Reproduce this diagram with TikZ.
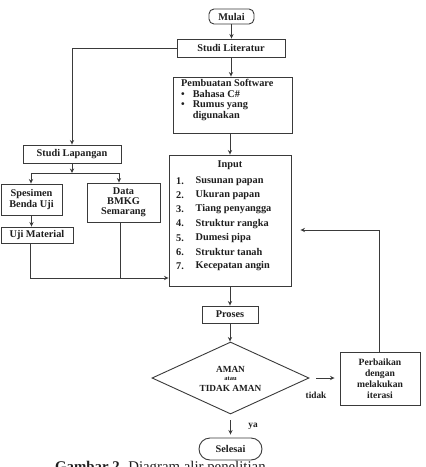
\documentclass[tikz,border=0pt]{standalone}
\usepackage{fontspec}
\setmainfont{Liberation Serif}
\usetikzlibrary{shapes.geometric,arrows.meta}
\definecolor{linec}{HTML}{3A3A3A}
\definecolor{txtc}{HTML}{1E1E1E}
\begin{document}
\begin{tikzpicture}[x=1pt,y=-1pt,
  box/.style={draw=linec, line width=0.9pt, inner sep=0pt, align=center, text=txtc,
    font=\bfseries\fontsize{10.3}{10.8}\selectfont},
  rbox/.style={box, rounded corners=5pt},
  lbl/.style={inner sep=0pt, text=txtc, font=\bfseries\fontsize{10.3}{10.8}\selectfont},
  arr/.style={draw=linec, line width=0.9pt, -{Stealth[length=4.5pt,width=4.2pt]}},
  ln/.style={draw=linec, line width=0.9pt}
]
\useasboundingbox (0,0) rectangle (426,467);
\clip (0,0) rectangle (426,467);
\fill[white] (0,0) rectangle (426,467);

% main column
\node[rbox, minimum width=45, minimum height=15] (mulai) at (231.5,16.5) {Mulai};
\node[box, minimum width=108, minimum height=18] (lit) at (231,48) {Studi Literatur};
\node[box, minimum width=119, minimum height=56] (soft) at (232.5,105) {};
\node[box, minimum width=122, minimum height=131] (inp) at (230,220.5) {};
\node[box, minimum width=56, minimum height=17] (pros) at (230,314.5) {Proses};
\node[draw=linec, line width=0.9pt, shape=diamond, inner sep=0pt, minimum width=157, minimum height=72] (dec) at (230.5,378) {};
\node[box, minimum width=80, minimum height=53, font=\bfseries\fontsize{9.6}{11}\selectfont] (perb) at (380,378.5) {Perbaikan\\dengan\\melakukan\\iterasi};
\node[box, rounded corners=11pt, minimum width=63, minimum height=22] (sel) at (230.5,449) {Selesai};

% left column
\node[box, minimum width=98, minimum height=18] (lap) at (72,154) {Studi Lapangan};
\node[box, minimum width=61, minimum height=31] (spes) at (31.5,199.5) {Spesimen\\Benda Uji};
\node[box, minimum width=73, minimum height=39, font=\bfseries\fontsize{10.3}{10}\selectfont] (bmkg) at (123.5,202.5) {Data\\BMKG\\Semarang};
\node[box, minimum width=72, minimum height=16] (uji) at (37,235) {Uji Material};

% Pembuatan Software text
\node[lbl, font=\bfseries\fontsize{10.3}{10.4}\selectfont, anchor=north west] (swtxt) at (181,79.5) {%
  \begin{tabular}{@{}l@{\hspace{8pt}}l@{}}
  \multicolumn{2}{@{}l@{}}{Pembuatan Software}\\
  • & Bahasa C\#\\
  • & Rumus yang\\
    & digunakan
  \end{tabular}};

% Input text
\node[lbl] (inT) at (230,165) {Input};
\foreach \i/\t in {1/Susunan papan,2/Ukuran papan,3/Tiang penyangga,4/Struktur rangka,5/Dumesi pipa,6/Struktur tanah,7/Kecepatan angin}{
  \node[lbl, anchor=west] (n\i) at (176,{181+14.2*(\i-1)}) {\i.};
  \node[lbl, anchor=west] (t\i) at (195.5,{181+14.2*(\i-1)}) {\t};
}

% diamond text
\node[lbl, font=\bfseries\fontsize{9.3}{10}\selectfont] (d1) at (230.5,369) {AMAN};
\node[lbl, font=\bfseries\fontsize{6.5}{7}\selectfont] (d2) at (230.5,378.5) {atau};
\node[lbl, font=\bfseries\fontsize{9.3}{10}\selectfont] (d3) at (230.5,388) {TIDAK AMAN};

% labels
\node[lbl, font=\bfseries\fontsize{9.3}{10}\selectfont] (tidak) at (316,395) {tidak};
\node[lbl, font=\bfseries\fontsize{9.3}{10}\selectfont] (ya) at (253,426) {ya};

% connectors
\draw[arr] (mulai.south) -- (mulai.south |- lit.north);
\draw[arr] (lit.west) -| (lap.north);
\draw[arr] (lit.south) -- (lit.south |- soft.north);
\draw[arr] (soft.south -| inp.north) -- (inp.north);

\coordinate (split) at (72,173);
\coordinate (sL) at (31,173);
\coordinate (sR) at (119,173);
\draw[arr] (lap.south) -- (split);
\draw[ln] (sL) -- (sR);
\draw[arr] (sL) -- (sL |- spes.north);
\draw[arr] (sR) -- (sR |- bmkg.north);
\draw[arr] (spes.south) -- (spes.south |- uji.north);

\coordinate (jL) at (30,278);
\coordinate (jR) at (120,278);
\draw[arr] (uji.south -| jL) -- (jL) -- (jL -| inp.west);
\draw[ln] (bmkg.south -| jR) -- (jR);

\draw[arr] (inp.south) -- (inp.south |- pros.north);
\draw[arr] (pros.south) -- (pros.south |- dec.north);
\draw[arr, shorten <=7pt, shorten >=5pt] (dec.east) -- (dec.east -| perb.west);
\draw[arr, shorten <=6pt, shorten >=3pt] (dec.south) -- (dec.south |- sel.north);

\coordinate (fb) at (379,230);
\draw[arr, shorten >=9pt] (perb.north -| fb) -- (fb) -- (fb -| inp.east);

% caption (cut off by the frame, as in the source)
\node[anchor=base west, inner sep=0pt, text=txtc, font=\fontsize{14.8}{16}\selectfont] (cap) at (55,471) {\textbf{Gambar 2.} Diagram alir penelitian};
\end{tikzpicture}
\end{document}
